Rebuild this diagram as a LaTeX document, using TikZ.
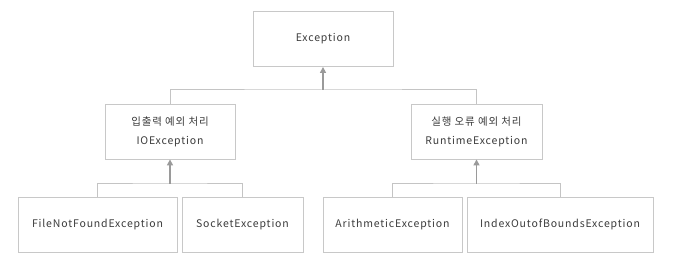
\documentclass[tikz,border=0pt]{standalone}
\usepackage{fontspec}
\setmainfont{Noto Sans CJK KR}[LetterSpace=8]
\usetikzlibrary{arrows.meta}
\definecolor{boxline}{HTML}{C8C8C8}
\definecolor{busline}{HTML}{C4C4C4}
\definecolor{arrowgray}{HTML}{9A9A9A}
\definecolor{labeltext}{HTML}{3C3C3C}
\begin{document}
\begin{tikzpicture}[x=1pt,y=-1pt,
  classbox/.style={draw=boxline, line width=0.9pt, fill=white, minimum height=55pt,
    inner sep=0pt, align=center, text=labeltext, font=\fontsize{10.5}{19}\selectfont},
  conn/.style={draw=busline, line width=1pt},
  uparrow/.style={draw=arrowgray, line width=1.5pt, -{Triangle[width=6pt,length=6pt]}}]
\useasboundingbox (0,0) rectangle (673,272);
\fill[white] (0,0) rectangle (673,272);

% root of the hierarchy
\node[classbox, minimum width=140pt] (exc) at (323,39) {Exception};

% second level
\node[classbox, minimum width=130pt] (io) at (170,131.5) {입출력 예외 처리\\IOException};
\node[classbox, minimum width=131pt] (rt) at (476.5,131.5) {실행 오류 예외 처리\\RuntimeException};

% leaves
\node[classbox, minimum width=159pt] (fnf) at (97.5,224.5) {FileNotFoundException};
\node[classbox, minimum width=121pt] (sock) at (242.5,224.5) {SocketException};
\node[classbox, minimum width=139pt] (arith) at (392.5,224.5) {ArithmeticException};
\node[classbox, minimum width=186pt] (idx) at (560,224.5) {IndexOutofBoundsException};

% bus junctions
\coordinate (busT) at (323,90);
\coordinate (busL) at (170,184);
\coordinate (busR) at (476.5,184);

% connectors
\draw[conn] (io.north) |- (busT) -| (rt.north);
\draw[conn] (fnf.north) |- (busL) -| (sock.north);
\draw[conn] (arith.north) |- (busR) -| (idx.north);

\draw[uparrow] (busT) -- (exc.south);
\draw[uparrow] (busL) -- (io.south);
\draw[uparrow] (busR) -- (rt.south);
\end{tikzpicture}
\end{document}
